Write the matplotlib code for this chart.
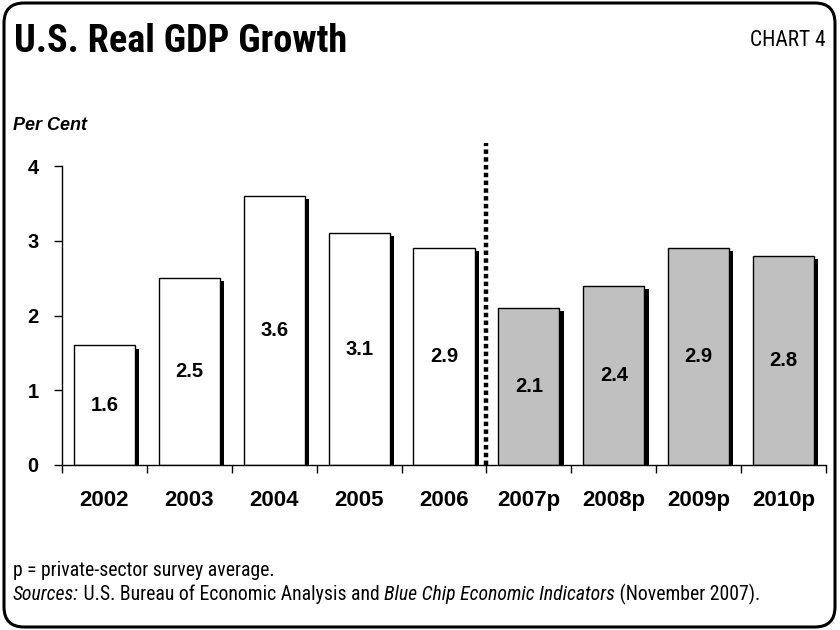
import matplotlib
matplotlib.use("Agg")
import matplotlib.pyplot as plt
from matplotlib.patches import FancyBboxPatch
import matplotlib.patheffects as pe
from matplotlib.ticker import FixedLocator, NullFormatter, FixedFormatter
from matplotlib import font_manager as fm

years = ["2002", "2003", "2004", "2005", "2006", "2007p", "2008p", "2009p", "2010p"]
growth = [1.6, 2.5, 3.6, 3.1, 2.9, 2.1, 2.4, 2.9, 2.8]
is_forecast = [False, False, False, False, False, True, True, True, True]
y_ticks = [0, 1, 2, 3, 4]

available = {f.name for f in fm.fontManager.ttflist}
SANS = ["Liberation Sans", "DejaVu Sans"]
HAS_COND = "Roboto Condensed" in available
COND = (["Roboto Condensed"] if HAS_COND else []) + SANS

W, H = 840, 630
fig = plt.figure(figsize=(8.4, 6.3), dpi=100)
fig.patch.set_facecolor("white")

# rounded frame
frame = FancyBboxPatch((4 / W, 3 / H), 831 / W, 624 / H,
                       boxstyle="round,pad=0,rounding_size=0.024",
                       transform=fig.transFigure, facecolor="none",
                       edgecolor="black", linewidth=2.2, mutation_aspect=W / H)
fig.patches.append(frame)

ax = fig.add_axes([62 / W, (H - 465) / H, (826 - 62) / W, (465 - 143) / H])
x = list(range(len(years)))
colors = ["#c0c0c0" if f else "white" for f in is_forecast]
bars = ax.bar(x, growth, width=0.72, color=colors, edgecolor="black", linewidth=1.0)
for b in bars:
    b.set_path_effects([pe.SimplePatchShadow(offset=(3.0, -2.2), shadow_rgbFace="black", alpha=1.0),
                        pe.Normal()])

for xi, v in zip(x, growth):
    ax.text(xi, v / 2, f"{v:.1f}", ha="center", va="center", fontsize=14.5,
            fontweight="bold", family=SANS)

ax.set_xlim(-0.5, len(years) - 0.5)
ax.set_ylim(0, 4.31)
ax.axvline(4.5, color="black", linewidth=3.2, linestyle=(0, (1, 0.75)),
           dash_capstyle="butt", ymin=0, ymax=1)

for s in ["top", "right"]:
    ax.spines[s].set_visible(False)
ax.spines["left"].set_bounds(0, 4)
ax.spines["left"].set_linewidth(1.0)
ax.spines["bottom"].set_linewidth(1.0)

ax.set_yticks(y_ticks)
ax.set_yticklabels([str(t) for t in y_ticks], fontsize=14.5, fontweight="bold", family=SANS)
ax.tick_params(axis="y", length=6, width=1, pad=11)

ax.xaxis.set_major_locator(FixedLocator([i - 0.5 for i in range(len(years) + 1)]))
ax.xaxis.set_major_formatter(NullFormatter())
ax.xaxis.set_minor_locator(FixedLocator(x))
ax.xaxis.set_minor_formatter(FixedFormatter(years))
ax.tick_params(axis="x", which="major", length=6, width=1)
ax.tick_params(axis="x", which="minor", length=0, pad=18, labelsize=16)
for lab in ax.xaxis.get_minorticklabels():
    lab.set_fontweight("bold")
    lab.set_family(SANS)

fig.text(14 / W, 1 - 41 / H, "U.S. Real GDP Growth", fontsize=27.5 if HAS_COND else 22.5,
         fontweight="bold", family=COND, ha="left", va="center")
fig.text(826 / W, 1 - 40 / H, "CHART 4", fontsize=15.5 if HAS_COND else 14, family=COND,
         ha="right", va="center")
fig.text(13 / W, 1 - 125 / H, "Per Cent", fontsize=13, fontweight="bold",
         style="italic", family=SANS, ha="left", va="center")

# footnotes (mixed italic pieces laid out side by side)
renderer = fig.canvas.get_renderer()
FOOT_SIZE = 14.2 if HAS_COND else 11.5


def pieces(xpix, ypix, parts, size):
    xcur = xpix
    for txt, italic in parts:
        t = fig.text(xcur / W, 1 - ypix / H, txt, fontsize=size, family=COND,
                     style="italic" if italic else "normal", ha="left", va="center")
        xcur += t.get_window_extent(renderer).width


pieces(13, 571, [("p = private-sector survey average.", False)], FOOT_SIZE)
pieces(13, 594, [("Sources:", True), (" U.S. Bureau of Economic Analysis and ", False),
                 ("Blue Chip Economic Indicators", True), (" (November 2007).", False)], FOOT_SIZE)

fig.savefig("out.png", dpi=100)
